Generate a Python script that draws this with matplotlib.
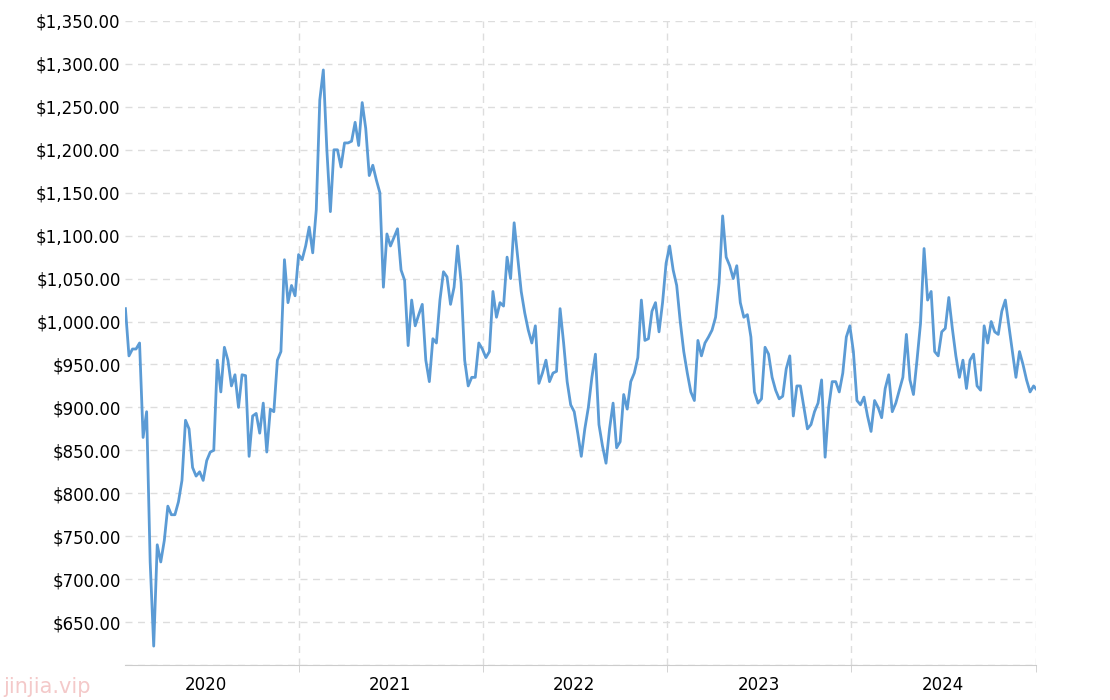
import matplotlib
matplotlib.use("Agg")
import matplotlib.pyplot as plt
import matplotlib.dates as mdates
import pandas as pd
from matplotlib.ticker import FuncFormatter, MultipleLocator

prices = [1015,960,968,968,975,865,895,720,622,740,720,745,785,775,775,790,815,885,875,830,820,825,815,838,848,850,
955,918,970,955,925,938,900,938,937,843,890,893,870,905,848,898,895,955,965,1072,1022,1042,1030,1078,1072,1088,1110,
1080,1130,1258,1293,1200,1128,1200,1200,1180,1208,1208,1210,1232,1205,1255,1225,1170,1182,1165,1150,1040,1102,1088,
1098,1108,1060,1048,972,1025,995,1008,1020,955,930,980,975,1025,1058,1052,1020,1040,1088,1045,955,925,935,935,975,968,
958,965,1035,1005,1022,1018,1075,1050,1115,1075,1035,1010,990,975,995,928,940,955,930,940,942,1015,975,930,903,895,870,
843,875,900,935,962,880,855,835,875,905,853,860,915,898,930,940,958,1025,978,980,1012,1022,988,1022,1068,1088,1060,
1042,1000,965,940,918,908,978,960,975,982,990,1005,1045,1123,1075,1065,1050,1065,1022,1005,1008,982,918,905,910,970,
962,935,920,910,913,945,960,890,925,925,900,875,880,895,905,932,842,900,930,930,918,940,982,995,965,908,903,912,890,
872,908,900,888,922,938,895,905,920,935,985,932,915,955,998,1085,1025,1035,965,960,988,992,1028,992,960,935,955,922,
955,962,925,920,995,975,1000,988,985,1012,1025,995,965,935,965,950,932,918,925,920,922]
dates = pd.date_range("2020-01-24", periods=len(prices), freq="7D")
years = [2020, 2021, 2022, 2023, 2024]

fig = plt.figure(figsize=(11.1, 7.0), dpi=100)
ax = fig.add_axes([0.113, 0.05, 0.82, 0.92])
ax.plot(dates, prices, color="#5b9bd5", lw=2)
ax.set_ylim(600, 1350)
ax.set_xlim(dates[0], pd.Timestamp("2024-12-31"))
ax.yaxis.set_major_locator(MultipleLocator(50))
ax.yaxis.set_major_formatter(FuncFormatter(lambda v, p: "" if v < 650 else f"${v:,.2f}"))
ax.set_xticks([pd.Timestamp(f"{y}-07-01") for y in years])
ax.set_xticklabels([str(y) for y in years])
ax.set_xticks([pd.Timestamp(f"{y}-01-01") for y in range(2021, 2025)] + [pd.Timestamp("2024-12-31")], minor=True)
ax.tick_params(axis="x", which="major", length=0, labelsize=12, pad=8)
ax.tick_params(axis="x", which="minor", length=5, color="#cccccc")
ax.tick_params(axis="y", length=0, labelsize=12)
ax.grid(axis="y", color="#dddddd", ls=(0, (5, 4)), lw=1)
ax.grid(axis="x", which="minor", color="#dddddd", ls=(0, (5, 4)), lw=1)
for s in ["top", "right", "left"]:
    ax.spines[s].set_visible(False)
ax.spines["bottom"].set_color("#cccccc")
fig.text(0.003, 0.01, "jinjia.vip", color="#f4c9c9", fontsize=15)
fig.savefig("out.png")
